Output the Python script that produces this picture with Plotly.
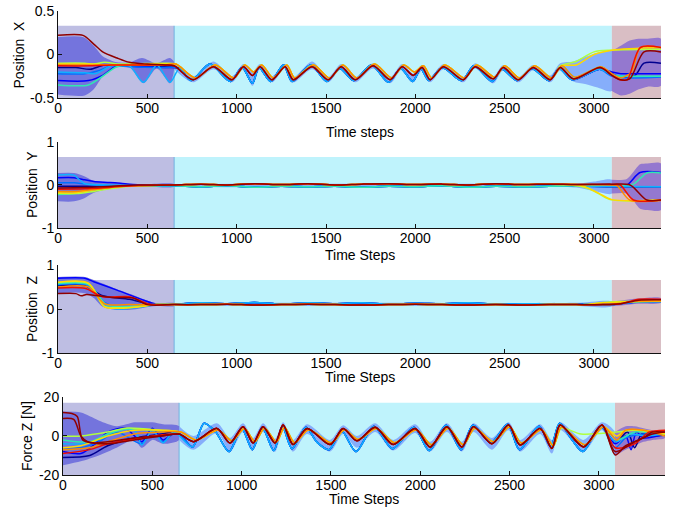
import plotly.graph_objects as go

# ---------------- time axis / phases ----------------
PHASE_BOUNDS = [0, 650, 3100, 3375]
PHASE_BOUNDS_F = [0, 650, 3090, 3370]
XTICKS = [0, 500, 1000, 1500, 2000, 2500, 3000]

# ---------------- Panel 1 : Position X ----------------
X_MID_WARM = [(650, -0.13), (756, -0.29), (870, -0.14), (974, -0.29), (1038, -0.14), (1088, -0.24), (1131, -0.14),
              (1197, -0.29), (1271, -0.14), (1317, -0.29), (1422, -0.14), (1512, -0.29), (1585, -0.14), (1663, -0.29),
              (1764, -0.13), (1859, -0.29), (1926, -0.14), (1988, -0.24), (2038, -0.15), (2083, -0.29), (2157, -0.14),
              (2268, -0.29), (2335, -0.14), (2436, -0.28), (2492, -0.15), (2576, -0.29), (2660, -0.15), (2755, -0.29),
              (2811, -0.15), (2884, -0.28), (3035, -0.15)]
X_MID_MID = [(660, -0.11), (770, -0.27), (880, -0.12), (985, -0.27), (1045, -0.12), (1095, -0.20), (1140, -0.12),
             (1205, -0.27), (1280, -0.12), (1325, -0.27), (1430, -0.12), (1520, -0.27), (1595, -0.12), (1672, -0.27),
             (1772, -0.11), (1868, -0.27), (1935, -0.12), (1995, -0.20), (2045, -0.13), (2092, -0.27), (2165, -0.12),
             (2276, -0.27), (2343, -0.12), (2444, -0.26), (2500, -0.13), (2584, -0.27), (2668, -0.13), (2763, -0.27),
             (2820, -0.13), (2892, -0.26), (3040, -0.14)]
X_MID_COOL = [(680, -0.16), (745, -0.30), (850, -0.11), (965, -0.31), (1030, -0.15), (1088, -0.33), (1125, -0.15),
              (1190, -0.31), (1262, -0.12), (1310, -0.31), (1415, -0.12), (1505, -0.31), (1578, -0.16), (1655, -0.30),
              (1755, -0.12), (1850, -0.32), (1918, -0.16), (1985, -0.31), (2030, -0.16), (2075, -0.30), (2150, -0.15),
              (2260, -0.30), (2328, -0.13), (2430, -0.31), (2485, -0.17), (2570, -0.30), (2652, -0.16), (2748, -0.30),
              (2805, -0.16), (2878, -0.29), (3030, -0.17)]

X_NAVY_START = [(0, -0.15), (100, -0.15), (180, -0.17), (260, -0.12), (400, -0.13), (560, -0.14)]
X_NAVY_END = [(3100, -0.22), (3147, -0.26), (3230, -0.24), (3280, -0.10), (3375, -0.10)]
X_BLUE_START = [(0, -0.30), (170, -0.30), (250, -0.24), (330, -0.13), (450, -0.14), (600, -0.15)]
X_BLUE_END = [(3100, -0.20), (3150, -0.22), (3250, -0.22), (3375, -0.22)]
X_AZURE_START = [(0, -0.22), (150, -0.22), (220, -0.19), (300, -0.13), (400, -0.14), (560, -0.15)]
X_AZURE_END = [(3100, -0.25), (3200, -0.27), (3375, -0.26)]
X_SKY_START = [(0, -0.20), (150, -0.21), (210, -0.22), (300, -0.13), (400, -0.13), (478, -0.32), (553, -0.12), (627, -0.32)]
X_SKY_END = [(3100, -0.23), (3200, -0.25), (3375, -0.25)]
X_TEAL_START = [(0, -0.35), (170, -0.35), (250, -0.25), (330, -0.14), (450, -0.12), (600, -0.11)]
X_TEAL_END = [(3100, -0.24), (3200, -0.25), (3375, -0.25)]
X_LIME_START = [(0, -0.10), (150, -0.10), (200, -0.11), (260, -0.09), (350, -0.11), (600, -0.10)]
X_LIME_END = [(2811, -0.13), (2900, -0.08), (3000, 0.03), (3100, 0.05), (3375, 0.06)]
X_YELLOW_START = [(0, -0.11), (180, -0.11), (300, -0.12), (450, -0.11), (600, -0.11)]
X_YELLOW_END = [(2900, -0.12), (3000, 0.0), (3100, 0.05), (3375, 0.08)]
X_ORANGE_START = [(0, -0.12), (180, -0.12), (300, -0.12), (600, -0.12)]
X_ORANGE_END = [(3100, -0.22), (3150, -0.27), (3210, -0.20), (3260, 0.08), (3375, 0.08)]
X_RED_START = [(0, -0.13), (180, -0.13), (300, -0.12), (450, -0.12), (600, -0.12)]
X_RED_END = [(3100, -0.24), (3147, -0.29), (3186, -0.29), (3259, 0.08), (3375, 0.08)]
X_DARKRED_START = [(0, 0.22), (140, 0.22), (200, 0.12), (250, 0.03), (330, -0.04), (400, -0.09), (500, -0.11), (600, -0.12)]
X_DARKRED_END = [(3100, -0.24), (3147, -0.29), (3200, -0.28), (3280, 0.03), (3375, 0.03)]

X_BAND1_UP = [(0, 0.20), (140, 0.20), (200, 0.10), (250, -0.02), (330, -0.09), (400, -0.09), (470, -0.04), (550, -0.10), (627, -0.04), (650, -0.09)]
X_BAND1_LO = [(0, -0.46), (150, -0.47), (200, -0.40), (250, -0.25), (300, -0.16), (400, -0.15), (478, -0.33), (553, -0.16), (627, -0.33), (650, -0.17)]
X_BAND2_UP = [(650, -0.09), (756, -0.25), (870, -0.08), (974, -0.25), (1038, -0.11), (1088, -0.20), (1131, -0.11), (1197, -0.25),
              (1271, -0.11), (1317, -0.26), (1422, -0.08), (1512, -0.26), (1585, -0.11), (1663, -0.26), (1764, -0.10),
              (1859, -0.26), (1926, -0.11), (1988, -0.22), (2038, -0.12), (2083, -0.26), (2157, -0.11), (2268, -0.26),
              (2335, -0.10), (2436, -0.25), (2492, -0.12), (2576, -0.26), (2660, -0.12), (2755, -0.24), (2811, -0.10),
              (2884, -0.08), (2950, -0.03), (3020, 0.02), (3100, 0.04)]
X_BAND2_LO = [(650, -0.17), (756, -0.32), (870, -0.17), (974, -0.32), (1038, -0.17), (1088, -0.36), (1131, -0.17), (1197, -0.32),
              (1271, -0.16), (1317, -0.32), (1422, -0.17), (1512, -0.32), (1585, -0.17), (1663, -0.32), (1764, -0.16),
              (1859, -0.33), (1926, -0.17), (1988, -0.32), (2038, -0.18), (2083, -0.32), (2157, -0.17), (2268, -0.32),
              (2335, -0.16), (2436, -0.33), (2492, -0.18), (2576, -0.32), (2660, -0.18), (2755, -0.32), (2811, -0.18),
              (2884, -0.31), (2950, -0.34), (3020, -0.38), (3100, -0.42)]
X_BAND3_UP = [(3100, 0.04), (3150, 0.10), (3200, 0.16), (3250, 0.18), (3300, 0.18), (3375, 0.18)]
X_BAND3_LO = [(3100, -0.42), (3150, -0.47), (3200, -0.45), (3250, -0.40), (3300, -0.37), (3375, -0.36)]

# ---------------- Panel 2 : Position Y ----------------
Y_MID_WARM = [(650, 0.0), (800, 0.02), (950, 0.0), (1100, 0.03), (1250, 0.01), (1400, 0.03), (1550, 0.0), (1700, 0.02),
              (1850, 0.03), (2000, 0.01), (2150, 0.02), (2300, 0.0), (2450, 0.03), (2600, 0.01), (2750, 0.02), (2900, 0.01)]
Y_MID_COOL = [(650, -0.02), (800, -0.04), (950, -0.02), (1100, -0.05), (1250, -0.03), (1400, -0.04), (1550, -0.03), (1700, -0.05),
              (1850, -0.03), (2000, -0.04), (2150, -0.02), (2300, -0.05), (2450, -0.03), (2600, -0.04), (2750, -0.03), (2900, -0.02)]

Y_NAVY_START = [(0, -0.03), (200, -0.03), (400, -0.02), (550, 0.0)]
Y_NAVY_END = [(3000, -0.03), (3100, -0.04), (3375, -0.04)]
Y_BLUE_START = [(0, 0.17), (90, 0.17), (150, 0.12), (200, 0.08), (290, 0.06), (350, 0.04), (420, 0.01), (550, 0.0)]
Y_BLUE_END = [(3100, -0.01), (3184, 0.0), (3258, 0.29), (3375, 0.29)]
Y_AZURE_START = [(0, 0.05), (90, 0.05), (150, 0.02), (250, -0.02), (400, -0.03)]
Y_AZURE_END = [(3000, -0.04), (3375, -0.04)]
Y_SKY_START = [(0, 0.23), (90, 0.23), (120, 0.12), (150, 0.03), (300, 0.0), (500, -0.02)]
Y_SKY_END = [(3000, -0.03), (3375, -0.04)]
Y_TEAL_START = [(0, -0.22), (100, -0.20), (200, -0.10), (350, -0.03), (500, -0.02)]
Y_TEAL_END = [(3100, 0.0), (3221, 0.02), (3296, 0.28), (3375, 0.28)]
Y_LIME_START = [(0, -0.20), (100, -0.20), (200, -0.15), (300, -0.08), (450, -0.02)]
Y_LIME_END = [(2923, -0.03), (3000, -0.14), (3090, -0.34), (3375, -0.35)]
Y_YELLOW_START = [(0, -0.18), (100, -0.18), (250, -0.08), (400, -0.02)]
Y_YELLOW_END = [(2950, -0.04), (3030, -0.20), (3100, -0.34), (3375, -0.35)]
Y_ORANGE_START = [(0, -0.15), (100, -0.15), (250, -0.08), (400, -0.02)]
Y_ORANGE_END = [(3100, 0.0), (3130, -0.02), (3200, -0.35), (3375, -0.36)]
Y_RED_START = [(0, -0.10), (150, -0.09), (300, -0.05), (450, -0.01)]
Y_RED_END = [(3100, 0.01), (3147, 0.0), (3221, -0.35), (3375, -0.35)]
Y_DARKRED_START = [(0, -0.07), (150, -0.06), (300, -0.03), (450, 0.0)]
Y_DARKRED_END = [(3100, 0.02), (3202, 0.0), (3296, -0.35), (3375, -0.35)]

Y_BAND1_UP = [(0, 0.28), (90, 0.28), (150, 0.20), (200, 0.10), (300, 0.05), (400, 0.02), (500, 0.02), (650, 0.02)]
Y_BAND1_LO = [(0, -0.38), (90, -0.38), (150, -0.30), (200, -0.18), (300, -0.08), (400, -0.04), (500, -0.04), (650, -0.04)]
Y_BAND2_UP = [(650, 0.02), (1000, 0.03), (1500, 0.03), (2000, 0.03), (2500, 0.03), (2900, 0.03), (3000, 0.08), (3100, 0.12)]
Y_BAND2_LO = [(650, -0.04), (1000, -0.05), (1500, -0.05), (2000, -0.05), (2500, -0.05), (2900, -0.06), (3000, -0.14), (3100, -0.20)]
Y_BAND3_UP = [(3100, 0.12), (3184, 0.14), (3220, 0.30), (3258, 0.48), (3300, 0.50), (3375, 0.50)]
Y_BAND3_LO = [(3100, -0.20), (3184, -0.20), (3220, -0.36), (3258, -0.55), (3300, -0.58), (3375, -0.58)]

# ---------------- Panel 3 : Position Z ----------------
Z_MID_WARM = [(650, 0.10), (800, 0.10), (950, 0.11), (1100, 0.09), (1250, 0.10), (1400, 0.11), (1550, 0.10), (1700, 0.09),
              (1850, 0.10), (2000, 0.11), (2150, 0.10), (2300, 0.09), (2450, 0.10), (2600, 0.09), (2750, 0.10), (2900, 0.10)]
Z_MID_COOL = [(650, 0.11), (800, 0.14), (950, 0.12), (1100, 0.15), (1250, 0.11), (1400, 0.14), (1550, 0.12), (1700, 0.14),
              (1850, 0.11), (2000, 0.13), (2150, 0.12), (2300, 0.14), (2450, 0.11), (2600, 0.12), (2750, 0.12), (2900, 0.11)]

Z_NAVY_START = [(0, 0.53), (150, 0.53), (250, 0.30), (400, 0.22), (500, 0.12), (560, 0.10)]
Z_NAVY_END = [(3000, 0.10), (3100, 0.10), (3250, 0.17), (3375, 0.18)]
Z_BLUE_START = [(0, 0.70), (150, 0.70), (200, 0.62), (330, 0.43), (480, 0.20), (550, 0.11)]
Z_BLUE_END = [(3000, 0.12), (3100, 0.11), (3250, 0.16), (3375, 0.17)]
Z_AZURE_START = [(0, 0.55), (170, 0.54), (260, 0.15), (350, 0.03), (450, 0.05), (550, 0.10)]
Z_AZURE_END = [(3000, 0.10), (3100, 0.10), (3250, 0.16), (3375, 0.17)]
Z_SKY_START = [(0, 0.57), (170, 0.55), (250, 0.10), (330, 0.0), (450, 0.04), (550, 0.10)]
Z_SKY_END = [(3000, 0.10), (3100, 0.10), (3250, 0.17), (3375, 0.18)]
Z_TEAL_START = [(0, 0.58), (170, 0.56), (270, 0.10), (350, 0.05), (550, 0.10)]
Z_TEAL_END = [(2950, 0.09), (3050, 0.14), (3150, 0.16), (3375, 0.17)]
Z_LIME_START = [(0, 0.60), (170, 0.58), (260, 0.06), (350, 0.03), (450, 0.05), (550, 0.10)]
Z_LIME_END = [(2950, 0.10), (3050, 0.15), (3150, 0.17), (3375, 0.18)]
Z_YELLOW_START = [(0, 0.61), (170, 0.59), (260, 0.05), (350, 0.02), (450, 0.05), (550, 0.10)]
Z_YELLOW_END = [(2950, 0.10), (3050, 0.14), (3150, 0.16), (3375, 0.18)]
Z_ORANGE_START = [(0, 0.50), (170, 0.50), (260, 0.12), (400, 0.10), (520, 0.10)]
Z_ORANGE_END = [(3000, 0.10), (3100, 0.11), (3250, 0.18), (3375, 0.19)]
Z_RED_START = [(0, 0.48), (150, 0.47), (250, 0.28), (400, 0.28), (520, 0.10)]
Z_RED_END = [(3050, 0.10), (3150, 0.12), (3250, 0.22), (3375, 0.22)]
Z_DARKRED_START = [(0, 0.35), (100, 0.35), (130, 0.30), (160, 0.33), (300, 0.26), (420, 0.25), (500, 0.10)]
Z_DARKRED_END = [(3050, 0.10), (3150, 0.12), (3250, 0.20), (3375, 0.21)]

Z_BAND1_UP = [(0, 0.73), (150, 0.73), (200, 0.66), (250, 0.58), (330, 0.45), (420, 0.32), (480, 0.22), (550, 0.13), (650, 0.13)]
Z_BAND1_LO = [(0, 0.36), (150, 0.36), (200, 0.25), (250, 0.05), (330, -0.02), (420, -0.01), (480, 0.03), (550, 0.07), (650, 0.07)]
Z_BAND2_UP = [(650, 0.13), (1000, 0.14), (1500, 0.14), (2000, 0.14), (2500, 0.13), (2900, 0.14), (3100, 0.17)]
Z_BAND2_LO = [(650, 0.07), (1000, 0.07), (1500, 0.07), (2000, 0.07), (2500, 0.07), (2900, 0.07), (3100, 0.06)]
Z_BAND3_UP = [(3100, 0.17), (3250, 0.24), (3375, 0.25)]
Z_BAND3_LO = [(3100, 0.06), (3250, 0.12), (3375, 0.14)]

# ---------------- Panel 4 : Force Z ----------------
F_MID_WARM = [(650, 1.0), (730, -2.9), (862, 3.9), (935, -3.6), (1008, 4.8), (1064, -3.6), (1120, 4.8), (1187, -3.6),
              (1232, 5.6), (1288, -4.4), (1366, 3.9), (1495, -4.4), (1568, 3.9), (1645, -2.5), (1747, 4.5), (1848, -4.4),
              (1971, 3.9), (2055, -5.6), (2149, 4.8), (2233, -5.6), (2298, 4.8), (2401, -4.0), (2494, 5.6), (2559, -4.6),
              (2671, 3.9), (2737, -6.4), (2783, 5.6), (2914, -5.6), (3017, 5.6)]
F_MID_MID = [(660, 2.0), (745, -2.0), (870, 3.0), (945, -2.5), (1015, 3.8), (1075, -2.8), (1128, 4.0), (1195, -3.0),
             (1240, 4.5), (1297, -3.5), (1375, 3.2), (1502, -3.5), (1575, 3.2), (1652, -1.8), (1755, 3.8), (1856, -3.5),
             (1978, 3.2), (2062, -4.5), (2156, 4.0), (2240, -4.5), (2305, 4.0), (2410, -3.0), (2500, 4.8), (2566, -3.6),
             (2678, 3.2), (2745, -5.0), (2790, 4.6), (2922, -4.5), (3025, 4.8)]
F_MID_COOL = [(640, 2.0), (725, -5.6), (790, 6.5), (855, 2.0), (930, -8.0), (1000, 4.0), (1060, -7.0), (1115, 4.5),
              (1180, -7.5), (1228, 5.0), (1282, -6.5), (1360, 4.5), (1420, -3.0), (1490, -7.0), (1560, 2.5), (1640, -8.0),
              (1740, 5.0), (1845, -6.5), (1965, 4.5), (2050, -7.5), (2145, 5.5), (2228, -7.0), (2295, 5.5), (2395, -3.5),
              (2490, 6.0), (2555, -7.0), (2665, 5.0), (2730, -5.5), (2780, 6.5), (2850, -2.0), (2910, -8.0), (3010, 5.0)]

F_NAVY_START = [(0, -11), (150, -10), (250, -5), (400, -1), (550, 1)]
F_NAVY_END = [(3091, -3), (3160, 2), (3200, -6), (3240, 1), (3300, 0), (3370, 0.5)]
F_BLUE_START = [(0, -8), (100, -9), (180, -4), (250, 2), (350, 4), (441, -3), (500, 4), (560, -2), (610, 1)]
F_BLUE_END = [(3091, -4), (3150, 0), (3180, -7), (3210, 2), (3250, -1), (3370, 1)]
F_AZURE_START = [(0, -6), (100, -6), (200, -3), (300, 2), (441, -4), (500, 3), (560, -3), (600, 0)]
F_AZURE_END = [(3091, -6), (3150, -1), (3250, 1), (3370, 1)]
F_SKY_START = [(0, -4), (100, -4), (200, -2), (300, 3), (400, 3), (441, -4.6), (500, 3), (560, -3.5), (620, 2)]
F_SKY_END = [(3091, -3), (3180, 1), (3260, 0), (3370, 1)]
F_TEAL_START = [(0, -2), (150, -3), (250, 1), (350, 3.5), (550, 2.5)]
F_TEAL_END = [(3100, -2), (3200, 2), (3370, 1)]
F_LIME_START = [(0, 0), (100, 0), (250, 2), (350, 4), (550, 3)]
F_LIME_END = [(2790, 4.0), (2900, 1.0), (3100, 2.0), (3200, 3.0), (3370, 1.0)]
F_YELLOW_START = [(0, -6), (100, -5), (250, 0), (400, 3), (550, 3)]
F_YELLOW_END = [(3100, 0), (3150, 3), (3250, 3), (3370, 1)]
F_ORANGE_START = [(0, -7), (150, -6), (250, -3), (400, 1), (550, 2)]
F_ORANGE_END = [(3100, -2), (3150, 3), (3250, 3), (3370, 0)]
F_RED_START = [(0, -9), (150, -7), (250, -4), (400, -1.5), (550, 0.5)]
F_RED_END = [(3091, -6), (3200, -4), (3280, 2), (3370, 3)]
F_DARKRED_START = [(0, 12), (50, 11.5), (80, 10), (110, -2), (170, -3.5), (250, -3), (400, -1), (550, 0)]
F_DARKRED_END = [(3091, -9.7), (3150, -5), (3250, -1), (3300, 2), (3370, 2)]
F_DARKRED2_START = [(0, 9), (60, 8.5), (100, 0), (140, -3), (250, -4), (400, -2), (550, 0)]
F_DARKRED2_END = [(3091, -8), (3200, -3), (3300, 1), (3370, 2)]

F_BAND1_UP = [(0, 12.5), (100, 12), (200, 8), (300, 5), (400, 7), (441, 7), (500, 7), (560, 6), (650, 5)]
F_BAND1_LO = [(0, -15), (100, -13), (200, -10), (300, -6), (400, -2), (441, -6), (500, -2), (560, -4), (650, -2)]
F_BAND2_UP = [(650, 5), (730, 0), (862, 6.5), (935, -1), (1008, 6.5), (1064, -1), (1120, 6.5), (1187, -1.5), (1232, 7),
              (1288, -2), (1366, 6), (1495, -2), (1568, 5.5), (1645, 0), (1747, 6.5), (1848, -2), (1971, 6), (2055, -3),
              (2149, 6.5), (2233, -3), (2298, 6.5), (2401, -1), (2494, 7), (2559, -2), (2671, 6), (2737, -2), (2783, 7),
              (2914, -2), (3017, 7), (3090, 2)]
F_BAND2_LO = [(650, -2), (730, -7), (862, 1.5), (935, -8), (1008, 2), (1064, -7), (1120, 2), (1187, -8), (1232, 3),
              (1288, -8), (1366, 1), (1495, -8), (1568, 1), (1645, -6), (1747, 2), (1848, -7.5), (1971, 1.5), (2055, -8),
              (2149, 2), (2233, -8), (2298, 2), (2401, -7), (2494, 3), (2559, -8), (2671, 1), (2737, -9), (2783, 3),
              (2914, -8), (3017, 3), (3090, -10)]
F_BAND3_UP = [(3090, 2), (3150, 5), (3200, 5), (3250, 4), (3300, 3), (3370, 2)]
F_BAND3_LO = [(3090, -10), (3150, -7), (3200, -5), (3250, -3), (3300, -2), (3370, -1)]

# ---------------- styling ----------------
NAVY, BLUE, AZURE, SKY, TEAL = "#00008F", "#0000FF", "#0070FF", "#10B0FF", "#30E8B0"
LIME, YELLOW, ORANGE, RED, DARKRED = "#B0FF40", "#FFD800", "#FF8C00", "#F01000", "#900000"
BG_COLORS = ["#BEBEE3", "#BFF3FC", "#D9BEC4"]
BAND_COLORS = ["#7474DD", "#86AEFB", "#9478CF"]
FONT = "Liberation Sans, Arial, sans-serif"


def seg(points):
    return [p[0] for p in points], [p[1] for p in points]


def build(start, mid, end):
    t0, t1 = start[-1][0], end[0][0]
    pts = start + [p for p in mid if t0 + 25 < p[0] < t1 - 25] + end
    return seg(pts)


fig = go.Figure()

panels = [
    dict(key="", bounds=PHASE_BOUNDS, rect_top=0.33, yr=[-0.5, 0.5], yt=[-0.5, 0, 0.5], ytt=["-0.5", "0", "0.5"],
         bands=[(X_BAND1_UP, X_BAND1_LO), (X_BAND2_UP, X_BAND2_LO), (X_BAND3_UP, X_BAND3_LO)],
         lines=[(NAVY, X_NAVY_START, X_MID_COOL, X_NAVY_END), (BLUE, X_BLUE_START, X_MID_COOL, X_BLUE_END),
                (AZURE, X_AZURE_START, X_MID_COOL, X_AZURE_END), (SKY, X_SKY_START, X_MID_COOL, X_SKY_END),
                (TEAL, X_TEAL_START, X_MID_MID, X_TEAL_END), (LIME, X_LIME_START, X_MID_MID, X_LIME_END),
                (YELLOW, X_YELLOW_START, X_MID_MID, X_YELLOW_END), (ORANGE, X_ORANGE_START, X_MID_MID, X_ORANGE_END),
                (RED, X_RED_START, X_MID_WARM, X_RED_END), (DARKRED, X_DARKRED_START, X_MID_WARM, X_DARKRED_END)]),
    dict(key="2", bounds=PHASE_BOUNDS, rect_top=0.65, yr=[-1, 1], yt=[-1, 0, 1], ytt=["-1", "0", "1"],
         bands=[(Y_BAND1_UP, Y_BAND1_LO), (Y_BAND2_UP, Y_BAND2_LO), (Y_BAND3_UP, Y_BAND3_LO)],
         lines=[(NAVY, Y_NAVY_START, Y_MID_COOL, Y_NAVY_END), (BLUE, Y_BLUE_START, Y_MID_COOL, Y_BLUE_END),
                (AZURE, Y_AZURE_START, Y_MID_COOL, Y_AZURE_END), (SKY, Y_SKY_START, Y_MID_COOL, Y_SKY_END),
                (TEAL, Y_TEAL_START, Y_MID_COOL, Y_TEAL_END), (LIME, Y_LIME_START, Y_MID_WARM, Y_LIME_END),
                (YELLOW, Y_YELLOW_START, Y_MID_WARM, Y_YELLOW_END), (ORANGE, Y_ORANGE_START, Y_MID_WARM, Y_ORANGE_END),
                (RED, Y_RED_START, Y_MID_WARM, Y_RED_END), (DARKRED, Y_DARKRED_START, Y_MID_WARM, Y_DARKRED_END)]),
    dict(key="3", bounds=PHASE_BOUNDS, rect_top=0.66, yr=[-1, 1], yt=[-1, 0, 1], ytt=["-1", "0", "1"],
         bands=[(Z_BAND1_UP, Z_BAND1_LO), (Z_BAND2_UP, Z_BAND2_LO), (Z_BAND3_UP, Z_BAND3_LO)],
         lines=[(NAVY, Z_NAVY_START, Z_MID_COOL, Z_NAVY_END), (BLUE, Z_BLUE_START, Z_MID_COOL, Z_BLUE_END),
                (AZURE, Z_AZURE_START, Z_MID_COOL, Z_AZURE_END), (SKY, Z_SKY_START, Z_MID_COOL, Z_SKY_END),
                (TEAL, Z_TEAL_START, Z_MID_WARM, Z_TEAL_END), (LIME, Z_LIME_START, Z_MID_WARM, Z_LIME_END),
                (YELLOW, Z_YELLOW_START, Z_MID_WARM, Z_YELLOW_END), (ORANGE, Z_ORANGE_START, Z_MID_WARM, Z_ORANGE_END),
                (RED, Z_RED_START, Z_MID_WARM, Z_RED_END), (DARKRED, Z_DARKRED_START, Z_MID_WARM, Z_DARKRED_END)]),
    dict(key="4", bounds=PHASE_BOUNDS_F, rect_top=17, yr=[-20, 20], yt=[-20, 0, 20], ytt=["-20", "0", "20"],
         bands=[(F_BAND1_UP, F_BAND1_LO), (F_BAND2_UP, F_BAND2_LO), (F_BAND3_UP, F_BAND3_LO)],
         lines=[(NAVY, F_NAVY_START, F_MID_COOL, F_NAVY_END), (BLUE, F_BLUE_START, F_MID_COOL, F_BLUE_END),
                (AZURE, F_AZURE_START, F_MID_COOL, F_AZURE_END), (SKY, F_SKY_START, F_MID_COOL, F_SKY_END),
                (TEAL, F_TEAL_START, F_MID_MID, F_TEAL_END), (LIME, F_LIME_START, F_MID_MID, F_LIME_END),
                (YELLOW, F_YELLOW_START, F_MID_MID, F_YELLOW_END), (ORANGE, F_ORANGE_START, F_MID_MID, F_ORANGE_END),
                (RED, F_RED_START, F_MID_WARM, F_RED_END), (DARKRED, F_DARKRED2_START, F_MID_WARM, F_DARKRED2_END),
                (DARKRED, F_DARKRED_START, F_MID_WARM, F_DARKRED_END)]),
]

X_DOMAINS = [[0.0852, 0.9706], [0.0852, 0.9706], [0.0852, 0.9706], [0.0925, 0.9765]]
Y_DOMAINS = [[0.8071, 0.9783], [0.5512, 0.7205], [0.3051, 0.4783], [0.0650, 0.2185]]

shapes = []
for i, p in enumerate(panels):
    xa, ya = "x" + p["key"], "y" + p["key"]
    b = p["bounds"]
    for k in range(3):
        shapes.append(dict(type="rect", xref=xa, yref=ya, x0=b[k], x1=b[k + 1], y0=p["yr"][0], y1=p["rect_top"],
                           fillcolor=BG_COLORS[k], line=dict(width=0), layer="below"))
    shapes.append(dict(type="line", xref=xa, yref=ya, x0=b[1], x1=b[1], y0=p["yr"][0], y1=p["rect_top"],
                       line=dict(color="#6FB0E0", width=1), layer="below"))
    for k, (up, lo) in enumerate(p["bands"]):
        bx, by = seg(up + lo[::-1])
        fig.add_trace(go.Scatter(x=bx, y=by, xaxis=xa, yaxis=ya, mode="lines", fill="toself",
                                 fillcolor=BAND_COLORS[k], line=dict(width=0, shape="spline", smoothing=0.8),
                                 hoverinfo="skip", showlegend=False))
    for color, start, mid, end in p["lines"]:
        lx, ly = build(start, mid, end)
        fig.add_trace(go.Scatter(x=lx, y=ly, xaxis=xa, yaxis=ya, mode="lines",
                                 line=dict(color=color, width=1.5, shape="spline", smoothing=0.8),
                                 showlegend=False))

    axis_common = dict(showline=True, linecolor="#111", linewidth=1, ticks="inside", ticklen=4,
                       tickcolor="#111", showgrid=False, zeroline=False, automargin=False,
                       tickfont=dict(family=FONT, size=14, color="#000"))
    fig.update_layout(**{
        "xaxis" + p["key"]: dict(domain=X_DOMAINS[i], anchor=ya, range=[b[0], b[3]], tickvals=XTICKS,
                                 ticktext=[str(v) for v in XTICKS], ticklabelstandoff=-3, **axis_common),
        "yaxis" + p["key"]: dict(domain=Y_DOMAINS[i], anchor=xa, range=p["yr"], tickvals=p["yt"],
                                 ticktext=p["ytt"], **axis_common),
    })

annotations = []
XTITLES = [("Time steps", 359.5, 132), ("Time Steps", 359.5, 255), ("Time Steps", 359.5, 377), ("Time Steps", 364, 499)]
YTITLES = [("Position\u00a0 X", 18, 54.5), ("Position\u00a0 Y", 32, 185), ("Position\u00a0 Z", 32, 309), ("Force Z [N]", 27, 436)]
for txt, px, py in XTITLES:
    annotations.append(dict(text=txt, x=px / 681, y=1 - py / 508, xref="paper", yref="paper", showarrow=False,
                            xanchor="center", yanchor="middle", font=dict(family=FONT, size=14, color="#000")))
for txt, px, py in YTITLES:
    annotations.append(dict(text=txt, x=px / 681, y=1 - py / 508, xref="paper", yref="paper", showarrow=False,
                            textangle=-90, xanchor="center", yanchor="middle",
                            font=dict(family=FONT, size=14, color="#000")))

fig.update_layout(width=681, height=508, autosize=False,
                  margin=dict(l=0, r=0, t=0, b=0, pad=0, autoexpand=False), paper_bgcolor="white",
                  plot_bgcolor="rgba(0,0,0,0)", shapes=shapes, annotations=annotations, showlegend=False)

fig.write_html("out.html", config={"displayModeBar": False, "responsive": False},
               post_script="document.body.style.margin='0';document.body.style.overflow='hidden';")
